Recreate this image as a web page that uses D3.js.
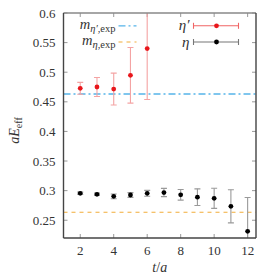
<!DOCTYPE html>
<html>
<head>
<meta charset="utf-8">
<script src="https://cdn.jsdelivr.net/npm/d3@7"></script>
<style>
  body { margin: 0; background: #fff; }
  text { font-family: "Liberation Serif", "DejaVu Serif", serif; }
</style>
</head>
<body>
<div id="chart"></div>
<script>
// data
var tEtaP = [2, 3, 4, 5, 6],
    etaP = [0.4728, 0.4750, 0.4715, 0.4948, 0.5400],
    etaPErr = [0.010, 0.016, 0.027, 0.047, 0.086];

var tEta = [2, 3, 4, 5, 6, 7, 8, 9, 10, 11, 12],
    eta = [0.2954, 0.2938, 0.2904, 0.2926, 0.2954, 0.2968, 0.2930, 0.2890, 0.2870, 0.2735, 0.2313],
    etaErr = [0.002, 0.002, 0.004, 0.004, 0.005, 0.007, 0.009, 0.014, 0.017, 0.028, 0.057];

var mEtaPExp = 0.4632,
    mEtaExp = 0.2634;

var xTicks = [2, 4, 6, 8, 10, 12],
    yTicks = [0.25, 0.3, 0.35, 0.4, 0.45, 0.5, 0.55, 0.6];

var W = 280, H = 280,
    margin = {left: 63.5, top: 13, right: 24, bottom: 42},
    width = W - margin.left - margin.right,
    height = H - margin.top - margin.bottom;

var x = d3.scaleLinear().domain([1, 12.5]).range([0, width]);
var y = d3.scaleLinear().domain([0.22, 0.6]).range([height, 0]);

var svg = d3.select("#chart").append("svg")
    .attr("width", W).attr("height", H)
  .append("g")
    .attr("transform", "translate(" + margin.left + "," + margin.top + ")");

svg.append("defs").append("clipPath").attr("id", "clip")
  .append("rect").attr("width", width).attr("height", height);

//////////////////// ticks (inward, all four sides) ////////////////////
var tickLen = 4, tickCol = "#999";
svg.selectAll("line.xt").data(xTicks).enter().append("line")
  .attr("x1", d => x(d)).attr("x2", d => x(d))
  .attr("y1", height).attr("y2", height - tickLen)
  .style("stroke", tickCol);
svg.selectAll("line.xtt").data(xTicks).enter().append("line")
  .attr("x1", d => x(d)).attr("x2", d => x(d))
  .attr("y1", 0).attr("y2", tickLen)
  .style("stroke", tickCol);
svg.selectAll("line.yt").data(yTicks).enter().append("line")
  .attr("x1", 0).attr("x2", tickLen)
  .attr("y1", d => y(d)).attr("y2", d => y(d))
  .style("stroke", tickCol);
svg.selectAll("line.ytr").data(yTicks).enter().append("line")
  .attr("x1", width).attr("x2", width - tickLen)
  .attr("y1", d => y(d)).attr("y2", d => y(d))
  .style("stroke", tickCol);

//tick labels
svg.selectAll("text.xl").data(xTicks).enter().append("text")
  .attr("x", d => x(d)).attr("y", height + 17)
  .style("text-anchor", "middle").style("font-size", "13px").style("fill", "#333")
  .text(d => d);
svg.selectAll("text.yl").data(yTicks).enter().append("text")
  .attr("x", -8).attr("y", d => y(d)).attr("dy", "0.35em")
  .style("text-anchor", "end").style("font-size", "13px").style("fill", "#333")
  .text(d => d3.format("")(d));

//axis titles
var xt = svg.append("text")
  .attr("x", width / 2).attr("y", height + 34)
  .style("text-anchor", "middle").style("font-size", "14px").style("fill", "#333");
xt.append("tspan").style("font-style", "italic").text("t");
xt.append("tspan").text("/");
xt.append("tspan").style("font-style", "italic").text("a");

var yt = svg.append("text")
  .attr("transform", "translate(" + (-45) + "," + (height / 2 + 5) + ") rotate(-90)")
  .style("text-anchor", "middle").style("font-size", "14px").style("fill", "#333");
yt.append("tspan").style("font-style", "italic").text("aE");
yt.append("tspan").attr("dy", 3).style("font-size", "10px").text("eff");

//////////////////// experimental lines ////////////////////
var plot = svg.append("g").attr("clip-path", "url(#clip)");

plot.append("line")
  .attr("x1", 0).attr("x2", width)
  .attr("y1", y(mEtaPExp)).attr("y2", y(mEtaPExp))
  .style("stroke", "#56b4e9").style("stroke-width", 1.3)
  .style("stroke-dasharray", "7,3,2,3");
plot.append("line")
  .attr("x1", 0).attr("x2", width)
  .attr("y1", y(mEtaExp)).attr("y2", y(mEtaExp))
  .style("stroke", "#f2ad3a").style("stroke-width", 1.1)
  .style("stroke-dasharray", "4,4");

//////////////////// error bars + points ////////////////////
function drawSeries(ts, vals, errs, barCol, ptCol) {
  var g = plot.append("g");
  var d = ts.map((t, i) => ({t: t, v: vals[i], e: errs[i]}));
  g.selectAll("line.eb").data(d).enter().append("line")
    .attr("x1", p => x(p.t)).attr("x2", p => x(p.t))
    .attr("y1", p => y(p.v - p.e)).attr("y2", p => y(p.v + p.e))
    .style("stroke", barCol).style("stroke-width", 1.1);
  g.selectAll("line.cl").data(d).enter().append("line")
    .attr("x1", p => x(p.t) - 3).attr("x2", p => x(p.t) + 3)
    .attr("y1", p => y(p.v - p.e)).attr("y2", p => y(p.v - p.e))
    .style("stroke", barCol).style("stroke-width", 1.1);
  g.selectAll("line.ch").data(d).enter().append("line")
    .attr("x1", p => x(p.t) - 3).attr("x2", p => x(p.t) + 3)
    .attr("y1", p => y(p.v + p.e)).attr("y2", p => y(p.v + p.e))
    .style("stroke", barCol).style("stroke-width", 1.1);
  g.selectAll("circle").data(d).enter().append("circle")
    .attr("cx", p => x(p.t)).attr("cy", p => y(p.v)).attr("r", 2.4)
    .style("fill", ptCol);
}
drawSeries(tEtaP, etaP, etaPErr, "#f4a3a3", "#e8161b");
drawSeries(tEta, eta, etaErr, "#999", "#000");

//////////////////// frame ////////////////////
svg.append("line").attr("x1", 0).attr("x2", width).attr("y1", 0).attr("y2", 0)
  .style("stroke", "#888").style("stroke-width", 1.6);
svg.append("line").attr("x1", width).attr("x2", width).attr("y1", 0).attr("y2", height)
  .style("stroke", "#444").style("stroke-width", 1.4);
svg.append("line").attr("x1", 0).attr("x2", width).attr("y1", height).attr("y2", height)
  .style("stroke", "#444").style("stroke-width", 1.4);
svg.append("line").attr("x1", 0).attr("x2", 0).attr("y1", 0).attr("y2", height)
  .style("stroke", "#444").style("stroke-width", 1.4);

//////////////////// legends ////////////////////
var lgY = [12.8, 29];
//left legend: experimental masses
var l1 = svg.append("text").attr("x", 52).attr("y", lgY[0]).attr("dy", "0.2em")
  .style("text-anchor", "end").style("font-size", "14.5px").style("fill", "#333");
l1.append("tspan").style("font-style", "italic").text("m");
l1.append("tspan").attr("dy", 3).style("font-size", "10.5px").style("font-style", "italic").text("η′");
l1.append("tspan").style("font-size", "10.5px").text(",exp");
svg.append("line").attr("x1", 55).attr("x2", 73).attr("y1", lgY[0]).attr("y2", lgY[0])
  .style("stroke", "#56b4e9").style("stroke-width", 1.3).style("stroke-dasharray", "7,3,2,3");

var l2 = svg.append("text").attr("x", 52).attr("y", lgY[1]).attr("dy", "0.2em")
  .style("text-anchor", "end").style("font-size", "14.5px").style("fill", "#333");
l2.append("tspan").style("font-style", "italic").text("m");
l2.append("tspan").attr("dy", 3).style("font-size", "10.5px").style("font-style", "italic").text("η");
l2.append("tspan").style("font-size", "10.5px").text(",exp");
svg.append("line").attr("x1", 55).attr("x2", 73).attr("y1", lgY[1]).attr("y2", lgY[1])
  .style("stroke", "#f2ad3a").style("stroke-width", 1.1).style("stroke-dasharray", "4,4");

//right legend: lattice data
var names = ["η′", "η"], lgBar = ["#f06565", "#777"], lgPt = ["#e8161b", "#000"];
names.forEach(function(n, i) {
  var yy = lgY[i];
  svg.append("text").attr("x", 126).attr("y", yy).attr("dy", "0.3em")
    .style("text-anchor", "end").style("font-size", "15px").style("font-style", "italic")
    .style("fill", "#333").text(n);
  svg.append("line").attr("x1", 130).attr("x2", 175).attr("y1", yy).attr("y2", yy)
    .style("stroke", lgBar[i]).style("stroke-width", 1.1);
  [130, 175].forEach(function(xx) {
    svg.append("line").attr("x1", xx).attr("x2", xx).attr("y1", yy - 3).attr("y2", yy + 3)
      .style("stroke", lgBar[i]).style("stroke-width", 1.1);
  });
  svg.append("circle").attr("cx", 153).attr("cy", yy).attr("r", 2.4).style("fill", lgPt[i]);
});
</script>
</body>
</html>
